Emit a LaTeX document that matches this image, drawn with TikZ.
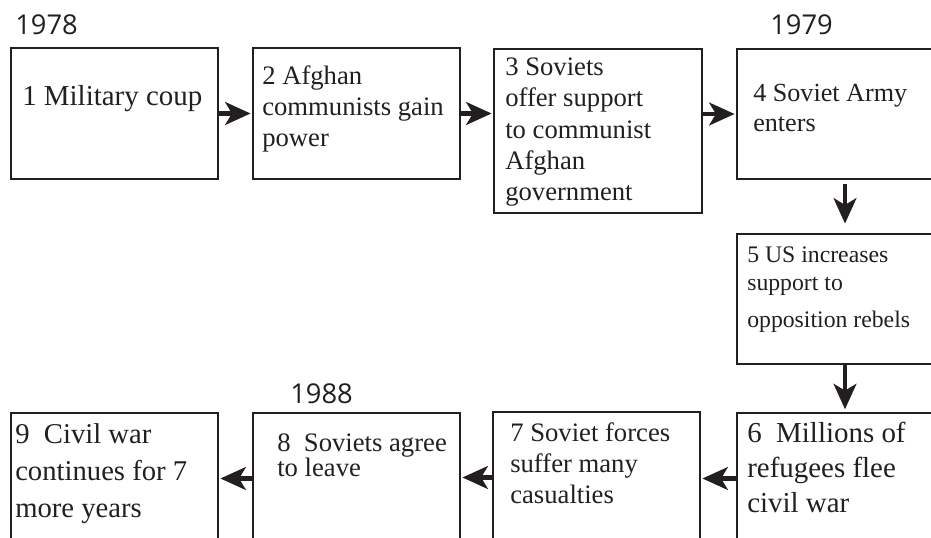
\documentclass[tikz,border=0pt]{standalone}
\usepackage{fontspec}
\setmainfont{Liberation Serif}
\newfontfamily\yearfont{Open Sans}
\usetikzlibrary{arrows.meta,positioning}
\definecolor{ink}{RGB}{35,31,32}
\newcommand\tightlines{\lineskiplimit=-20pt\relax}

\tikzset{
  box/.style 2 args={draw=ink, line width=1.6pt, minimum width=#1*0.75pt,
    minimum height=#2*0.75pt, inner sep=0pt},
  % anchored at the baseline of the last line
  txt/.style 2 args={anchor=base west, align=left, inner sep=0pt, text=ink,
    font={\fontsize{#1}{#2}\selectfont\tightlines}},
  yr/.style={anchor=base west, inner sep=0pt, text=ink,
    font={\yearfont\fontsize{20.5}{24}\selectfont}},
  flow/.style={draw=ink, line width=3.4pt, shorten >=1pt,
    -{Stealth[length=19pt,width=17pt,inset=5pt]}}
}

\begin{document}
\begin{tikzpicture}[x=0.75pt,y=-0.75pt]
\useasboundingbox (0,0) rectangle (931,538);
\clip (0,0) rectangle (931,538);

% boxes, top row
\node[box={207}{131}] (b1) at (114.5,113.5) {};
\node[box={207}{131}] (b2) at (356.5,113.5) {};
\node[box={208}{164}] (b3) at (598,131) {};
\node[box={216}{130}] (b4) at (845,114) {};

% right column
\node[box={216}{130}] (b5) at (845,299) {};
\node[box={216}{131}] (b6) at (845,478.5) {};

% bottom row
\node[box={207}{131}] (b7) at (596.5,477.5) {};
\node[box={207}{131}] (b8) at (356.5,478.5) {};
\node[box={207}{131}] (b9) at (114.5,478.5) {};

% texts
\node[txt={21.7}{26}] (t1) at (22,106) {1 Military coup};
\node[txt={20}{23.25}] (t2) at (262,147) {2 Afghan\\communists gain\\power};
\node[txt={20}{23.6}] (t3) at (505,201) {3 Soviets\\offer support\\to communist\\Afghan\\government};
\node[txt={19.6}{22.5}] (t4) at (753,132) {4 Soviet Army\\enters};
\node[txt={17.8}{21}] (t5) at (747,327) {5 US increases\\support to\\[6.75pt]opposition rebels};
\node[txt={21.7}{25.9}] (t6) at (747,512) {6\ \ Millions of\\refugees flee\\civil war};
\node[txt={20}{22.9}] (t7) at (510,503) {7 Soviet forces\\suffer many\\casualties};
\node[txt={20}{18.4}] (t8) at (277,476) {8\ \ Soviets agree\\to leave};
\node[txt={21.5}{27.75}] (t9) at (15,517) {9\ \ Civil war\\continues for 7\\more years};

% years
\node[yr] (y1) at (15,35) {1978};
\node[yr] (y2) at (770,35) {1979};
\node[yr] (y3) at (290,403) {1988};

% arrows
\draw[flow] (b1.east) -- (b2.west);
\draw[flow] (b2.east) -- (b2.east -| b3.west);
\draw[flow] (b3.east |- b4.west) -- (b4.west);
\draw[flow, shorten <=3pt, shorten >=7pt] (b4.south) -- (b5.north);
\draw[flow, shorten >=2pt] (b5.south) -- (b6.north);
\draw[flow] (b6.west) -- (b6.west -| b7.east);
\draw[flow] (b7.west) -- (b7.west -| b8.east);
\draw[flow] (b8.west) -- (b9.east);

\end{tikzpicture}
\end{document}
